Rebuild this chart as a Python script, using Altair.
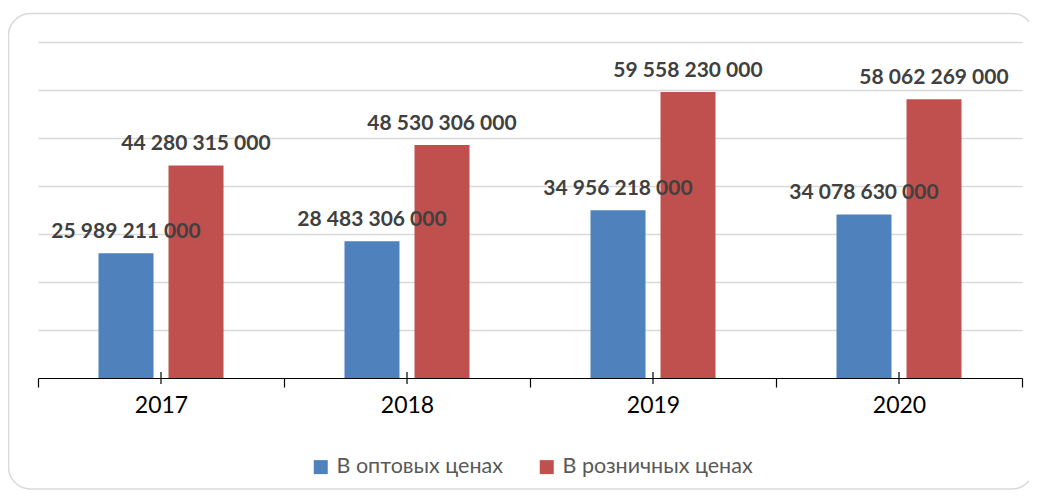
import altair as alt
import pandas as pd

years = ["2017", "2018", "2019", "2020"]
series = ["В оптовых ценах", "В розничных ценах"]
wholesale = [25989211000, 28483306000, 34956218000, 34078630000]
retail = [44280315000, 48530306000, 59558230000, 58062269000]
colors = ["#4F81BD", "#C0504D"]
grid_values = [10e9, 20e9, 30e9, 40e9, 50e9, 60e9, 70e9]


def fmt(v):
    return f"{v:,}".replace(",", " ")


rows = []
for i, y in enumerate(years):
    rows.append({"year": y, "series": series[0], "value": wholesale[i], "label": fmt(wholesale[i])})
    rows.append({"year": y, "series": series[1], "value": retail[i], "label": fmt(retail[i])})
df = pd.DataFrame(rows)
years_df = pd.DataFrame({"year": years})

FONT = "Lato"

x_enc = alt.X(
    "year:N",
    sort=years,
    scale=alt.Scale(paddingInner=0, paddingOuter=0),
    axis=alt.Axis(
        title=None,
        labelAngle=0,
        labelFont=FONT,
        labelFontSize=23,
        labelColor="#000000",
        labelPadding=7,
        domainColor="#000000",
        domainWidth=1,
        tickColor="#000000",
        tickSize=9,
        tickWidth=1.2,
        tickBand="extent",
        grid=False,
    ),
)
xoff = alt.XOffset(
    "series:N",
    sort=series,
    scale=alt.Scale(paddingInner=0.2143, paddingOuter=0.864),
)
y_enc = alt.Y(
    "value:Q",
    scale=alt.Scale(domain=[0, 70e9], nice=False),
    axis=alt.Axis(
        title=None,
        labels=False,
        ticks=False,
        domain=False,
        grid=True,
        gridColor="#d9d9d9",
        gridWidth=1.3,
        values=grid_values,
    ),
)

frame = alt.Chart(alt.Data(values=[{"k": 1}])).mark_rect(
    fill="transparent", stroke="#d9d9d9", strokeWidth=1.5, cornerRadius=22
).encode(
    x=alt.value(-29.5), x2=alt.value(996), y=alt.value(-28.5), y2=alt.value(447)
)

bars = alt.Chart(df).mark_bar().encode(
    x=x_enc,
    xOffset=xoff,
    y=y_enc,
    color=alt.Color(
        "series:N",
        sort=series,
        scale=alt.Scale(domain=series, range=colors),
        legend=alt.Legend(
            title=None,
            orient="none",
            legendX=272,
            legendY=414,
            direction="horizontal",
            symbolType="square",
            symbolSize=196,
            symbolStrokeWidth=0,
            labelFont=FONT,
            labelFontSize=21.5,
            labelColor="#595959",
            labelOffset=5,
            labelLimit=0,
            columnPadding=33,
            padding=0,
        ),
    ),
)

labels = alt.Chart(df).mark_text(
    font=FONT, fontSize=21, fontWeight="bold", color="#404040",
    baseline="alphabetic", dy=-15
).encode(
    x=alt.X("year:N", sort=years),
    xOffset=alt.XOffset("series:N", sort=series),
    y=alt.Y("value:Q"),
    text="label:N",
)

center_ticks = alt.Chart(years_df).mark_rule(color="#000000", strokeWidth=1.2).encode(
    x=alt.X("year:N", sort=years),
    y=alt.value(330),
    y2=alt.value(342),
)

chart = alt.layer(frame, bars, labels, center_ticks).properties(
    width=984,
    height=336,
    autosize=alt.AutoSizeParams(type="none"),
    padding={"left": 30, "top": 34, "right": 7, "bottom": 112},
).configure(font=FONT).configure_view(strokeWidth=0, stroke="transparent")

chart.save("out.html", embed_options={"renderer": "svg", "actions": False})
